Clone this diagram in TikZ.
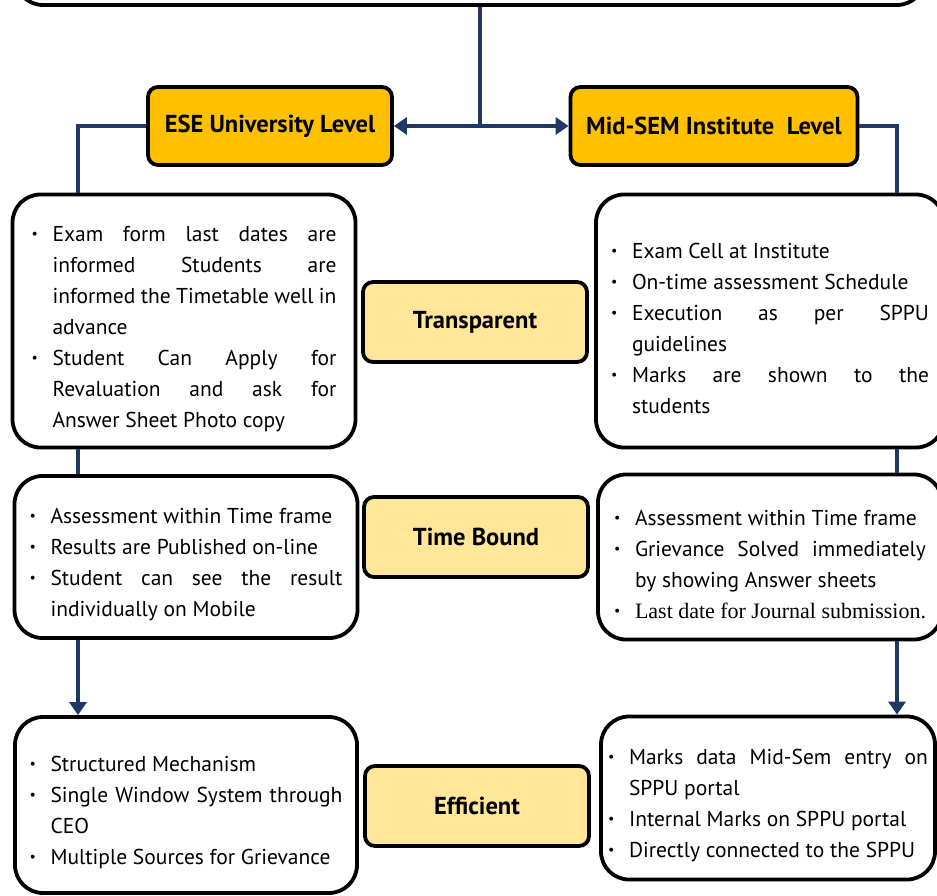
\documentclass[tikz,border=0pt]{standalone}
\usepackage{fontspec}
\setmainfont{PT Sans}
\newfontfamily\serifo{Liberation Serif}
\usetikzlibrary{arrows.meta}
\definecolor{azulo}{HTML}{203864}
\definecolor{naranja}{HTML}{FFC000}
\definecolor{crema}{HTML}{FFE699}
\newcommand{\punto}{\makebox[21pt][l]{\raisebox{3pt}{\fontsize{14}{14}\selectfont\textbullet}}}
\newcommand{\itm}[1]{\par\noindent\hangindent=21pt\hangafter=1\punto#1\par}
\tikzset{
  caja/.style={draw=black,line width=3.8pt,rounded corners=28pt,fill=white,inner sep=0pt,
    align=justify,font=\fontsize{21.5}{31}\selectfont},
  nivel/.style={draw=black,line width=3.8pt,rounded corners=10pt,fill=naranja,
    minimum height=78pt,font=\bfseries\fontsize{24.5}{28}\selectfont},
  cualidad/.style={draw=black,line width=3.8pt,rounded corners=10pt,fill=crema,
    minimum width=224pt,minimum height=80pt,font=\bfseries\fontsize{24.5}{28}\selectfont},
  linea/.style={azulo,line width=4pt},
  flecha/.style={linea,-{Triangle[length=13pt,width=17pt]}}
}
\begin{document}
\begin{tikzpicture}[x=1pt,y=-1pt]
  \useasboundingbox (0,0) rectangle (937,896);
  \clip (0,0) rectangle (937,896);
  % Caja superior (cortada)
  \node[caja,minimum width=910pt,minimum height=80pt] (plan) at (470,-35) {};
  % Niveles
  \node[nivel,minimum width=244pt] (ese) at (270,126) {ESE University Level};
  \node[nivel,minimum width=287pt] (mid) at (714,126) {Mid-SEM Institute\ \ Level};
  % Cualidades
  \node[cualidad] (transp) at (475,322) {Transparent};
  \node[cualidad] (tiempo) at (476,537) {Time Bound};
  \node[cualidad] (efic) at (477,806) {Efficient};
  % Columna izquierda
  \node[caja,minimum width=343pt,minimum height=253pt,text width=305pt] (eseA) at (184,321) {%
    \itm{Exam form last dates are\linebreak informed Students are\linebreak informed the Timetable well in\linebreak advance}
    \itm{Student Can Apply for\linebreak Revaluation and ask for\linebreak Answer Sheet Photo copy}};
  \node[caja,minimum width=343pt,minimum height=162pt,text width=313pt] (eseB) at (186,557) {%
    \itm{Assessment within Time frame}
    \itm{Results are Published on-line}
    \itm{Student can see the result\linebreak individually on Mobile}};
  \node[caja,minimum width=342pt,minimum height=176pt,text width=313pt] (eseC) at (186,805) {%
    \itm{Structured Mechanism}
    \itm{Single Window System through\linebreak CEO}
    \itm{Multiple Sources for Grievance}};
  % Columna derecha
  \node[caja,minimum width=348pt,minimum height=253pt,text width=318pt] (midA) at (770,321) {%
    \itm{Exam Cell at Institute}
    \itm{On-time assessment Schedule}
    \itm{Execution as per SPPU\linebreak guidelines}
    \itm{Marks are shown to the\linebreak students}};
  \node[caja,minimum width=344pt,minimum height=165pt,text width=312pt] (midB) at (770,557) {%
    \itm{Assessment within Time frame}
    \itm{Grievance Solved immediately\linebreak by showing Answer sheets}
    \itm{{\serifo\fontsize{22}{31}\selectfont Last date for Journal submission.}}};
  \node[caja,minimum width=334pt,minimum height=163pt,text width=320pt] (midC) at (768,798) {%
    \itm{Marks data Mid-Sem entry on\linebreak SPPU portal}
    \itm{Internal Marks on SPPU portal}
    \itm{Directly connected to the SPPU}};
  % Conectores
  \coordinate (cruce) at (480,126);
  \coordinate (izq) at (78,0);
  \coordinate (der) at (897,0);
  \draw[linea] (cruce |- plan.south) -- (cruce);
  \draw[flecha] (cruce) -- (ese.east);
  \draw[flecha] (cruce) -- (mid.west);
  \draw[linea] (ese.west) -| (izq |- eseA.north);
  \draw[linea] (mid.east) -| (der |- midA.north);
  \draw[linea] (izq |- eseA.south) -- (izq |- eseB.north);
  \draw[linea] (der |- midA.south) -- (der |- midB.north);
  \draw[flecha] (izq |- eseB.south) -- (izq |- eseC.north);
  \draw[flecha] (der |- midB.south) -- (der |- midC.north);
\end{tikzpicture}
\end{document}
